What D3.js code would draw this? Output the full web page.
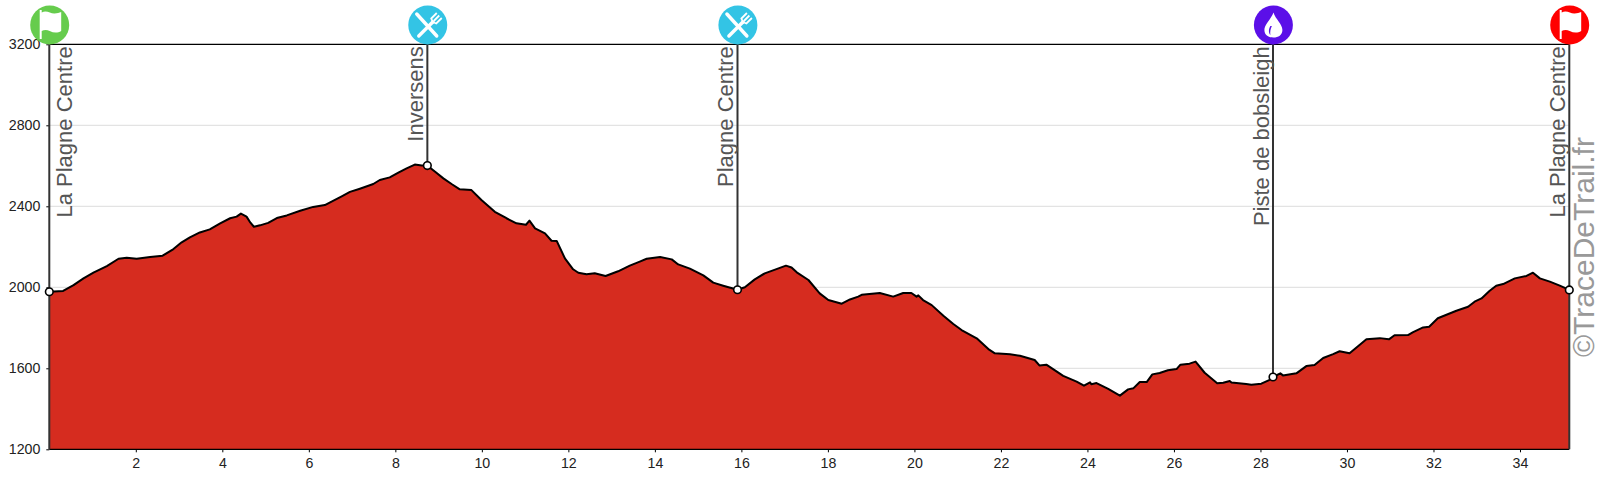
<!DOCTYPE html>
<html><head><meta charset="utf-8">
<script src="https://cdn.jsdelivr.net/npm/d3@7/dist/d3.min.js"></script>
<style>html,body{margin:0;padding:0;background:#fff}svg{display:block}text{font-family:"Liberation Sans",Arial,sans-serif}</style>
</head><body><svg id="c" width="1600" height="500"></svg>
<script>
const km=[0,.32,.56,.79,1.02,1.33,1.6,1.79,2.02,2.33,2.62,2.87,3.06,3.25,3.48,3.71,3.95,4.18,4.33,4.43,4.56,4.65,4.73,4.87,5.06,5.26,5.49,5.8,6.1,6.37,6.57,6.76,6.95,7.18,7.49,7.64,7.87,8.07,8.26,8.45,8.61,8.74,8.92,9.11,9.3,9.49,9.76,9.99,10.3,10.57,10.8,11.02,11.1,11.23,11.46,11.61,11.73,11.92,12.11,12.23,12.42,12.61,12.86,13.15,13.42,13.65,13.81,14.12,14.39,14.54,14.81,15.12,15.35,15.58,15.91,16.08,16.31,16.54,16.81,17.03,17.16,17.28,17.55,17.81,18.01,18.32,18.51,18.7,18.78,19.2,19.51,19.74,19.93,20.05,20.09,20.2,20.4,20.67,20.9,21.09,21.44,21.71,21.86,22.21,22.44,22.78,22.89,23.05,23.44,23.75,23.92,24.06,24.09,24.21,24.48,24.75,24.94,25.06,25.21,25.37,25.5,25.67,25.86,26.06,26.15,26.36,26.5,26.71,27,27.14,27.29,27.33,27.67,27.79,28.02,28.2,28.29,28.46,28.52,28.83,29.06,29.25,29.45,29.68,29.83,30.06,30.29,30.45,30.76,30.97,31.1,31.41,31.53,31.76,31.9,32.1,32.53,32.8,32.95,33.11,33.3,33.45,33.61,33.88,34.15,34.3,34.46,34.69,34.92,35.14];
const elevation=[1978,1982,2011,2044,2072,2105,2141,2146,2141,2150,2156,2189,2222,2247,2271,2286,2316,2341,2349,2364,2349,2319,2299,2306,2318,2342,2355,2378,2397,2406,2428,2449,2471,2487,2510,2530,2543,2566,2587,2606,2601,2601,2571,2538,2510,2484,2480,2431,2373,2341,2316,2309,2329,2291,2266,2230,2229,2143,2089,2072,2064,2069,2056,2079,2107,2127,2141,2150,2138,2113,2092,2059,2023,2008,1988,2000,2039,2069,2090,2107,2098,2074,2036,1970,1937,1919,1940,1954,1963,1972,1954,1972,1972,1954,1960,1937,1912,1860,1819,1789,1748,1695,1674,1669,1662,1641,1614,1618,1563,1534,1514,1531,1521,1527,1498,1465,1496,1501,1532,1532,1570,1577,1590,1596,1618,1623,1633,1578,1526,1529,1537,1530,1522,1519,1524,1542,1557,1575,1565,1575,1611,1616,1651,1670,1684,1674,1715,1744,1749,1743,1763,1764,1779,1802,1805,1847,1884,1904,1929,1945,1983,2008,2016,2044,2056,2072,2044,2028,2008,1987];
const stationNames=["La Plagne Centre","Inversens","Plagne Centre","Piste de bobsleigh","La Plagne Centre"];
const stationKm=[0,8.74,15.91,28.29,35.14];
const stationEle=[1978,2601,1988,1557,1987];
const stationKind=["start","food","food","water","finish"];
const kindColors={start:"#66cc4d",food:"#33c4e5",water:"#5b0fe8",finish:"#ff0000"};
const xTicks=[2,4,6,8,10,12,14,16,18,20,22,24,26,28,30,32,34];
const yTicks=[1200,1600,2000,2400,2800,3200];
const watermark="©TraceDeTrail.fr";

const svg=d3.select("#c");
const x=d3.scaleLinear().domain([0,35.14]).range([49.3,1569.3]);
const y=d3.scaleLinear().domain([1200,3200]).range([449.3,44.3]);
const pts=km.map((k,i)=>[k,elevation[i]]);

svg.append("g").selectAll("line").data(yTicks.slice(1,-1)).join("line")
  .attr("x1",x(0)).attr("x2",x(35.14)).attr("y1",d=>y(d)).attr("y2",d=>y(d))
  .attr("stroke","#dcdcdc").attr("stroke-width",1);

svg.append("path").datum(pts).attr("fill","#d62c1f")
  .attr("d",d3.area().x(d=>x(d[0])).y0(y(1200)).y1(d=>y(d[1])));
svg.append("path").datum(pts).attr("fill","none").attr("stroke","#000").attr("stroke-width",2).attr("stroke-linejoin","round")
  .attr("d",d3.line().x(d=>x(d[0])).y(d=>y(d[1])));

const yAxis=svg.append("g").attr("transform",`translate(${x(0)},0)`)
  .call(d3.axisLeft(y).tickValues(yTicks).tickFormat(d3.format("d")).tickSize(3).tickPadding(6));
const xAxis=svg.append("g").attr("transform",`translate(0,${y(1200)})`)
  .call(d3.axisBottom(x).tickValues(xTicks).tickFormat(d3.format("d")).tickSize(3).tickPadding(6));
[yAxis,xAxis].forEach(a=>{a.select(".domain").remove();a.selectAll("text").attr("font-size",14.2).attr("fill","#222").style("font-family",'"Liberation Sans",Arial,sans-serif');});
svg.append("line").attr("x1",x(0)).attr("x2",x(35.14)).attr("y1",y(3200)).attr("y2",y(3200)).attr("stroke","#000").attr("stroke-width",1.2);
svg.append("line").attr("x1",x(0)).attr("x2",x(35.14)).attr("y1",y(1200)).attr("y2",y(1200)).attr("stroke","#000").attr("stroke-width",1.2);

const st=svg.append("g").selectAll("g").data(stationKm.map((k,i)=>({k,e:stationEle[i],n:stationNames[i],t:stationKind[i]}))).join("g");
st.append("line").attr("x1",d=>x(d.k)).attr("x2",d=>x(d.k)).attr("y1",y(3200))
  .attr("y2",(d,i)=>(i===0||i===4)?y(1200):y(d.e)).attr("stroke","#333").attr("stroke-width",2);
st.append("text").text(d=>d.n).attr("font-size",22).attr("fill","#555").attr("text-anchor","end")
  .attr("transform",(d,i)=>`translate(${x(d.k)+(i===0?23:-4)},${y(3200)+2}) rotate(-90)`);
st.append("circle").attr("cx",d=>x(d.k)).attr("cy",d=>y(d.e)).attr("r",3.8).attr("fill","#fff").attr("stroke","#000").attr("stroke-width",1.6);

const icons=st.append("g").attr("transform",d=>`translate(${x(d.k)+.4},25)`);
icons.append("circle").attr("r",19.5).attr("fill",d=>kindColors[d.t]);
const flag="M-10,-15L-8,-15L-8,14L-10,14Z M-8,-12.5C-3,-15.5 1,-11 5,-11.5C7.5,-11.5 9.5,-12.5 11.5,-13L11.5,6C8,8 4,8 0,6C-3,4.5 -6,5 -8,6Z";
icons.filter(d=>d.t==="start"||d.t==="finish").append("path").attr("d",flag).attr("fill","#fff");
const food=icons.filter(d=>d.t==="food");
food.append("path").attr("d","M-11,-11L9,11").attr("stroke","#fff").attr("stroke-width",3.4).attr("stroke-linecap","round").attr("fill","none");
food.append("path").attr("d","M5,-3L-9,11").attr("stroke","#fff").attr("stroke-width",3.4).attr("stroke-linecap","round").attr("fill","none");
food.append("path").attr("d","M5,-3L3.5,-6.5L9,-12 M5,-3L8.5,-1.5L14,-7 M6,-4L11.5,-9.5").attr("stroke","#fff").attr("stroke-width",1.8).attr("fill","none");
const water=icons.filter(d=>d.t==="water");
water.append("path").attr("d","M0,-12.5C2,-6 9,-1 9,5C9,10 5,12.5 0,12.5C-5,12.5 -9,10 -9,5C-9,-1 -2,-6 0,-12.5Z").attr("fill","#fff");
water.append("path").attr("d","M-3,1C-5,4 -5,8 -3,10C-3.5,7 -3,4 -1.5,1Z").attr("fill",kindColors.water);

svg.append("text").text(watermark).attr("font-size",30).attr("fill","#999").attr("text-anchor","start")
  .attr("transform",`translate(1593.5,357) rotate(-90)`);
</script></body></html>
